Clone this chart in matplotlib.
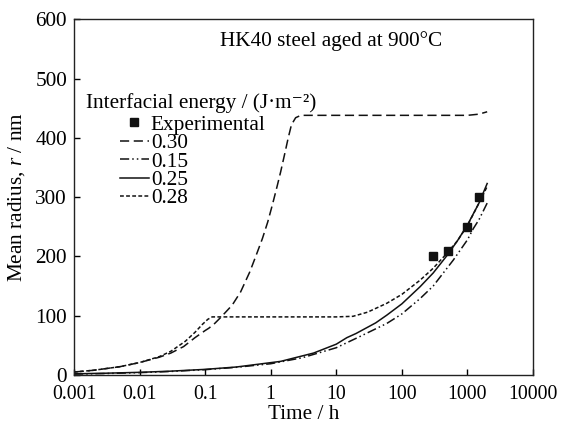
import matplotlib
matplotlib.use("Agg")
import matplotlib.pyplot as plt

plt.rcParams['font.family'] = ['Liberation Serif', 'DejaVu Serif']
plt.rcParams['mathtext.fontset'] = 'custom'
plt.rcParams['mathtext.rm'] = 'Liberation Serif'
plt.rcParams['mathtext.it'] = 'Liberation Serif:italic'

# Experimental data
t_exp = [300, 500, 1000, 1500]
r_exp = [200, 210, 250, 300]

# Interfacial energy 0.30
t30 = [0.001, 0.002, 0.005, 0.01, 0.02, 0.03, 0.047, 0.07, 0.1, 0.114, 0.14, 0.176, 0.259, 0.347,
       0.48, 0.6, 0.746, 0.9, 1.06, 1.25, 1.42, 1.65, 1.84, 2.07, 2.4, 2.88, 10, 100, 1000, 1500, 2000]
r30 = [5, 8, 14, 21, 30, 37, 48, 63, 75, 79, 87, 98, 118, 140,
       174, 202, 230, 258, 287, 318, 343, 375, 399, 422, 434, 438, 438, 438, 438, 440, 444]

# Interfacial energy 0.15
t15 = [0.001, 0.003, 0.01, 0.03, 0.1, 0.3, 1, 3, 10, 23, 59, 100, 190, 300, 610, 1000, 1230, 1500, 2000]
r15 = [1.5, 2.5, 4, 6, 9, 13, 19, 29, 46, 65, 87, 103, 129, 150, 194, 228, 247, 262, 290]

# Interfacial energy 0.25
t25 = [0.001, 0.003, 0.01, 0.03, 0.1, 0.3, 0.74, 1.42, 4.5, 10, 14.5, 20, 40, 59, 100, 190, 300,
       484, 700, 1000, 1500, 2000]
r25 = [2, 3, 4.5, 6.5, 9.5, 13.5, 19, 23, 37, 52, 63, 70, 88, 101, 120, 149, 172,
       201, 226, 253, 290, 323]

# Interfacial energy 0.28
t28 = [0.001, 0.002, 0.005, 0.01, 0.02, 0.03, 0.05, 0.07, 0.09, 0.11, 0.128, 0.16, 1, 10, 18, 30,
       59, 100, 190, 300, 484, 700, 1000, 1500, 2000]
r28 = [5, 8, 14, 21, 31, 40, 57, 72, 85, 94, 98, 98, 98, 98, 99, 106,
       121, 136, 160, 180, 205, 226, 252, 290, 318]

x_ticks = [0.001, 0.01, 0.1, 1, 10, 100, 1000, 10000]
x_ticklabels = ['0.001', '0.01', '0.1', '1', '10', '100', '1000', '10000']
y_ticks = [0, 100, 200, 300, 400, 500, 600]

fig = plt.figure(figsize=(5.61, 4.25), dpi=100)
ax = fig.add_axes([74/561, 1-375/425, (533-74)/561, (375-19.3)/425])

col = '#111111'
ax.plot(t_exp, r_exp, ls='none', marker='s', ms=5.5, color=col, label='Experimental', zorder=5)
ax.plot(t30, r30, color=col, lw=1.1, ls=(0, (6, 3)), label='0.30')
ax.plot(t15, r15, color=col, lw=1.1, ls=(0, (6, 2, 1, 2, 1, 2)), label='0.15')
ax.plot(t25, r25, color=col, lw=1.1, ls='-', label='0.25')
ax.plot(t28, r28, color=col, lw=1.1, ls=(0, (2.5, 1.5)), label='0.28')

ax.set_xscale('log')
ax.set_xlim(0.001, 10000)
ax.set_ylim(0, 600)
ax.set_xticks(x_ticks)
ax.set_xticklabels(x_ticklabels)
ax.set_yticks(y_ticks)
ax.minorticks_off()
ax.tick_params(direction='in', length=4, width=1, top=False, right=False)
ax.tick_params(axis='x', labelsize=14.3, pad=7.5)
ax.tick_params(axis='y', labelsize=15.3, pad=5)
for s in ax.spines.values():
    s.set_linewidth(1.0)
    s.set_color('#222222')

ax.set_xlabel('Time / h', fontsize=15.3, labelpad=0.5)
ax.set_ylabel('Mean radius, $r$ / nm', fontsize=15.3, labelpad=6)

ax.text(0.56, 0.94, 'HK40 steel aged at 900°C', transform=ax.transAxes, ha='center', va='center',
        fontsize=15.3)

fig.text(86/561, 1-103/425, 'Interfacial energy / (J·m⁻²)', ha='left', va='center', fontsize=15.3)
leg = ax.legend(loc='upper left', bbox_to_anchor=(120/561, 1-115/425), bbox_transform=fig.transFigure,
                frameon=False, fontsize=15.3,
                handlelength=1.35, handletextpad=0.1, labelspacing=-0.07, borderpad=0, borderaxespad=0)

fig.savefig('out.png', dpi=100)
